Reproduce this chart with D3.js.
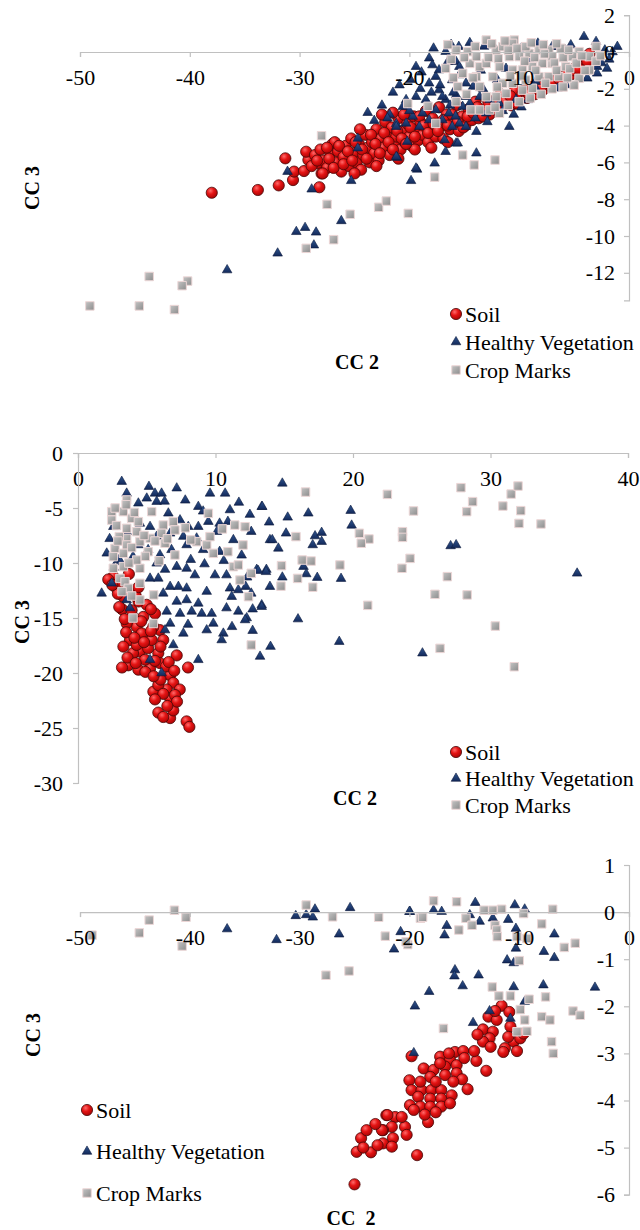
<!DOCTYPE html>
<html><head><meta charset="utf-8">
<script src="https://cdn.jsdelivr.net/npm/d3@7"></script>
<style>body{margin:0;background:#fff} svg{display:block} svg text{font-family:"Liberation Serif","Times New Roman",serif;}</style>
</head><body><svg id="c" width="640" height="1230"></svg>
<script>
// ---------- DATA ----------
const seriesNames = ["Soil", "Healthy Vegetation", "Crop Marks"];

// Panel 1 (CC2 vs CC3)
const p1XTicks = [-50, -40, -30, -20, -10, 0];
const p1YTicks = [2, 0, -2, -4, -6, -8, -10, -12];
const soil1 = [[-38.0,-7.65],[-33.8,-7.5],[-31.9,-7.25],[-30.6,-6.96],[-31.3,-5.78],[-28.2,-7.35],[-30.5,-6.5],[-29.6,-6.47],[-29.2,-5.87],[-29.4,-5.42],[-28.3,-6.05],[-28.0,-6.6],
[-28.6,-5.6],[-28.1,-5.3],[-27.8,-5.9],[-27.5,-6.3],[-27.2,-5.5],[-27.0,-5.0],[-26.7,-6.0],[-26.5,-5.4],[-26.2,-6.5],[-26.0,-5.7],[-25.8,-5.1],[-25.5,-6.2],[-25.3,-4.7],[-25.1,-5.5],[-24.8,-6.0],[-24.6,-5.0],[-24.4,-6.4],[-24.2,-5.6],[-24.0,-4.5],[-23.8,-5.2],[-23.6,-6.0],[-23.4,-4.9],[-23.2,-5.5],[-23.0,-4.2],[-22.8,-5.9],[-22.6,-4.7],[-22.4,-5.2],[-22.2,-3.8],[-22.0,-4.5],[-21.8,-5.6],[-21.6,-4.1],[-21.4,-5.0],[-21.2,-4.6],[-21.0,-3.6],[-20.8,-5.3],[-20.6,-4.3],[-20.4,-4.9],[-20.2,-3.9],[-20.0,-4.6],[-19.8,-5.1],[-19.6,-3.5],[-19.4,-4.2],[-19.2,-4.8],[-19.0,-3.8],[-18.8,-4.5],[-18.5,-3.2],[-18.3,-4.9],[-18.1,-4.1],[-17.9,-3.6],[-17.6,-4.6],[-17.3,-3.0],[-17.1,-4.0],[-16.9,-4.7],[-16.6,-3.4],[-16.3,-4.2],[-16.0,-3.8],[-15.7,-2.9],[-15.5,-4.3],[-15.2,-3.5],[-14.9,-4.0],[-14.6,-3.1],[-14.3,-3.7],[-14.0,-2.7],[-13.7,-3.6],[-13.4,-3.2],[-13.0,-2.5],[-12.7,-3.4],[-12.4,-2.9],[-12.0,-3.2],[-11.7,-2.3],[-11.4,-2.9],[-11.0,-2.6],[-10.7,-2.9],[-10.4,-2.1],[-10.0,-2.6],[-9.7,-2.3],[-9.3,-2.5],[-9.0,-1.9],[-8.6,-2.3],[-8.2,-1.7],[-7.9,-2.1],[-7.5,-1.8],[-7.1,-1.5],[-6.8,-1.8],[-6.4,-1.3],[-6.0,-1.5],[-5.6,-1.1],[-5.2,-1.2],[-4.8,-0.8],[-4.4,-0.6],[-4.0,-0.3],[-3.6,-0.1],[-22.5,-3.4],[-21.5,-3.3],[-20.5,-3.4],[-24.5,-4.2],[-26.8,-4.9],[-27.5,-5.2],[-25.0,-6.6],[-23.0,-6.2],[-21.0,-5.8],[-19.5,-5.3],[-18.0,-5.2],[-16.5,-4.9],
[-28.9,-6.2],[-28.4,-5.9],[-27.9,-6.6],[-27.3,-5.8],[-26.9,-6.3],[-26.4,-5.1],[-26.0,-6.1],[-25.6,-5.4],[-25.2,-5.9],[-24.9,-4.9],[-24.3,-5.3],[-23.9,-5.8],[-23.5,-4.5],[-23.1,-5.0],[-22.7,-5.5],[-22.3,-4.4],[-21.9,-4.9],[-21.5,-5.3],[-21.1,-4.3],[-20.7,-4.7],[-20.3,-5.0],[-19.9,-4.1],[-19.5,-4.6],[-19.1,-3.5],[-18.7,-4.0],[-18.3,-4.4],[-17.8,-3.9],[-17.4,-4.3],[-16.9,-3.7],[-16.5,-4.0],[-16.1,-3.4],[-15.6,-3.8],[-15.1,-4.1],[-14.7,-3.5],[-14.2,-3.3],[-13.8,-3.0],[-13.3,-3.5],[-12.8,-2.8],[-12.3,-3.1],[-11.8,-2.6],[-11.3,-2.7],[-10.8,-2.4],[-10.2,-2.8],[-9.6,-2.1],[-9.1,-2.3],[-8.5,-2.0],[-8.0,-1.9],[-7.4,-1.6],[-6.9,-1.6],[-6.3,-1.5],[-5.8,-1.3],[-5.0,-1.0],[-4.6,-0.9],[-3.8,-0.5]];
const veg1 = [[-36.6,-11.85],[-32.0,-10.94],[-30.3,-9.77],[-29.5,-9.55],[-28.5,-9.8],[-28.7,-10.5],[-26.2,-9.18],[-31.1,-6.5],[-28.9,-7.46],[-25.3,-7.0],[-21.1,-5.74],[-19.85,-7.0],[-19.3,-6.38],[-17.7,-6.05],[-16.7,-5.42],[-16.8,-4.78],[-15.75,-4.96],[-24.7,-4.7],[-24.7,-5.23],[-23.2,-3.73],[-21.2,-3.9],[-20.2,-4.87],
[-4.1,0.83],[-3.0,0.56],[-1.06,0.29],[-5.3,0.38],[-7.0,0.29],[-2.9,-0.8],[-2.9,-1.16],[-3.8,-1.43],[-6.5,-1.97],[-8.5,-1.97],[-10.3,-2.6],[-10.9,-4.06],[-13.9,-4.33],[-13.9,-5.5],[-15.6,-4.96],[-19.4,-6.32],[-21.2,-5.69],[-15.5,0.29],[-16.7,0.02],[-16.5,-0.53],[-17.9,-0.71],[-19.4,-0.8],[-18.2,-1.7],[-17.6,-1.34],[-15.75,-0.53],[-15.45,-1.25],[-19.4,-2.43],[-20.3,-2.6],[-20.6,-2.97],[-18.5,-2.6],[-17.3,-2.07],[-16.7,-2.6],[-17.6,-3.15],[-18.8,-3.33],[-19.7,-3.51],[-16.4,-3.33],[-15.15,-2.97],[-14.85,-2.43],[-14.2,-1.88],[-14.85,-1.7],[-13.6,-2.43],[-12.7,-2.6],[-11.8,-2.79],[-13.0,-3.33],[-15.45,-3.88],[-14.85,-4.06],[-16.1,-4.06],[-17.0,-3.7],[-18.2,-3.7],[-20.3,-3.88],[-21.2,-4.06],[-19.1,-4.06],[-17.0,-2.43],[-16.1,-1.52],[-15.45,-0.8],[-17.3,-0.98],[-18.2,-0.34],[-15.75,-2.34],[-12.4,0.38],[-8.3,0.47],[-8.5,-1.61],[-5.75,-1.79],
[-17.8,0.2],[-16.2,0.4],[-14.5,0.5],[-13.2,0.3],[-11.0,0.35],[-9.8,0.2],[-6.5,0.3],[-5.8,0.1],[-2.2,0.1],[-1.8,-0.4],[-2.5,-0.6],[-22.5,-2.9],[-21.8,-3.4],[-12.0,-1.5],[-11.2,-0.9],[-9.0,-0.5],[-13.5,-1.0],
[-21.5,-2.2],[-20.9,-1.8],[-19.9,-1.5],[-18.9,-1.1],[-18.0,-2.2],[-17.2,-1.8],[-16.3,-2.9],[-15.8,-3.5],[-14.5,-2.8],[-14.0,-3.6],[-13.3,-2.0],[-12.4,-3.0],[-11.5,-3.2],[-10.5,-3.4],[-9.8,-3.0],[-9.2,-2.6],[-12.9,-3.8],[-16.0,-2.2],[-19.0,-2.0],[-20.0,-3.2],[-22.0,-3.6],[-23.8,-3.3],[-1.5,0.0],[-2.0,-0.9]];
const crop1 = [[-49.1,-13.8],[-44.6,-13.8],[-41.4,-14.0],[-43.7,-12.2],[-40.2,-12.45],[-40.7,-12.7],[-29.4,-10.67],[-26.9,-10.2],[-27.5,-8.28],[-25.4,-8.82],[-22.8,-8.44],[-22.1,-8.1],[-20.1,-8.77],[-17.7,-6.8],[-28.0,-4.55],[-15.15,-5.6],[-14.1,-6.14],[-12.2,-5.87],[-17.6,-3.88],[-20.15,-2.8],[-18.3,-2.95],[-16.7,-0.89],[-15.75,0.1],[-14.7,0.02],[-15.6,-1.88],[-15.75,-2.7],[-14.4,-3.15],[-13.6,-3.15],[-12.7,-3.15],[-11.8,-3.33],[-13.0,0.65],[-10.45,0.65],[-13.6,-0.8],[-13.0,-0.62],[-12.1,0.1],[-11.5,0.29],[-10.9,-0.25],[-10.0,-0.25],[-9.1,-0.07],[-8.2,0.1],[-7.3,0.1],[-6.2,0.2],[-4.55,0.02],[-3.6,-0.25],[-3.6,-0.98],[-4.55,-1.43],[-5.75,-0.8],[-7.0,-0.62],[-7.9,-0.62],[-8.8,-0.8],[-9.7,-0.98],[-10.6,-0.98],[-11.8,-0.8],[-12.4,-1.34],[-11.5,-1.7],[-10.6,-1.7],[-9.4,-1.52],[-8.2,-1.34],[-7.3,-1.34],[-6.4,-1.34],[-13.6,-1.88],[-13.0,-2.43],[-12.1,-2.43],[-11.2,-2.25],[-13.9,-1.34],[-14.5,-0.62],[-15.15,-1.16],[-9.7,-2.07],[-8.8,-1.97],[-10.6,0.47],[-9.4,0.29],[-5.15,-0.25],[-7.0,-0.25],[-13.9,-0.25],
[-16.2,-0.4],[-15.0,-0.3],[-14.0,0.3],[-12.8,-0.3],[-11.9,-0.35],[-11.0,0.1],[-10.2,0.2],[-9.5,-0.5],[-8.6,-0.3],[-7.7,-0.1],[-6.8,-0.6],[-6.0,-0.3],[-5.4,-0.9],[-4.8,-0.6],[-4.0,-1.0],[-3.0,-0.5],[-2.6,-0.2],[-5.0,-1.8],[-6.0,-1.9],[-7.0,-2.0],[-8.0,-2.3],[-9.0,-2.5],[-10.0,-2.7],[-11.0,-2.9],[-12.2,-3.0],[-14.8,-2.3],[-14.2,-1.4],[-12.0,-1.9],[-10.8,-1.3],[-9.8,-1.3],[-8.5,-1.0],[-7.6,-1.7],[-6.6,-1.0],[-5.6,-1.4],[-4.3,-0.2],[-16.0,-1.4],[-16.5,0.4],[-12.5,0.45],[-11.3,0.6],[-8.9,0.5],[-7.8,0.4],[-6.6,0.45],[-5.5,0.1],[-3.0,0.3]];

// Panel 2
const p2XTicks = [0, 10, 20, 30, 40];
const p2YTicks = [0, -5, -10, -15, -20, -25, -30];
const soil2 = [[2.57,-11.24],[2.81,-12.3],[3.3,-13.06],[5.0,-13.8],[4.0,-14.9],[3.78,-17.0],[5.0,-16.7],[5.96,-16.1],[4.27,-15.8],[5.48,-15.8],[4.5,-18.06],[5.1,-17.75],[5.84,-18.2],[4.0,-18.2],[5.96,-19.1],[3.66,-19.3],[4.39,-19.7],[5.24,-19.6],[4.87,-18.8],[7.18,-18.4],[8.0,-19.5],[6.7,-20.2],[6.93,-20.9],[7.4,-21.5],[6.45,-21.5],[5.48,-21.7],[5.84,-21.1],[6.7,-22.3],[7.05,-22.0],[5.84,-23.6],[6.7,-24.1],[6.93,-23.4],[6.2,-24.0],[7.9,-24.4],[8.1,-24.9],[3.54,-15.5],[4.75,-14.9],[3.78,-12.6],[3.05,-11.7],[5.36,-17.0],[4.27,-17.45],[6.2,-17.0],[4.63,-16.4],[3.2,-14.2],[4.4,-13.5],[5.6,-14.6],[3.5,-16.3],[4.9,-19.9],[6.4,-19.4],[6.0,-20.6],
[2.2,-11.5],[2.9,-12.8],[3.0,-14.0],[3.4,-15.1],[4.2,-13.0],[4.6,-15.3],[5.3,-16.2],[4.1,-16.8],[3.3,-17.6],[3.6,-18.6],[4.8,-17.2],[5.6,-18.9],[6.0,-17.6],[4.2,-19.1],[3.2,-19.5],[5.5,-20.3],[6.6,-19.0],[7.0,-19.8],[6.2,-21.9],[7.2,-22.6],[6.5,-23.0],[5.6,-22.4],[5.3,-14.2],[4.4,-12.2],[3.7,-11.0],[2.5,-12.0],[3.9,-14.3]];
const veg2 = [[3.18,-2.6],[5.16,-3.06],[7.18,-3.2],[5.6,-3.67],[6.08,-3.67],[3.54,-3.67],[9.6,-3.67],[10.7,-3.67],[4.39,-4.57],[5.0,-4.12],[5.72,-4.42],[8.75,-4.88],[11.05,-5.18],[13.36,-4.88],[6.57,-5.48],[7.42,-6.1],[9.48,-6.24],[10.3,-6.4],[10.9,-6.24],[8.02,-6.7],[8.75,-6.7],[5.24,-6.7],[4.5,-6.4],[2.57,-6.7],[3.54,-7.15],[5.72,-7.6],[6.7,-7.3],[7.66,-7.6],[8.63,-7.75],[10.1,-7.15],[11.3,-7.9],[12.6,-7.15],[13.96,-7.9],[4.39,-8.36],[5.1,-8.8],[5.96,-9.27],[6.8,-8.8],[7.9,-8.36],[9.1,-8.8],[10.3,-8.97],[2.09,-9.12],[2.93,-9.73],[4.0,-9.42],[5.72,-10.03],[6.33,-10.6],[7.18,-10.33],[7.9,-10.5],[8.5,-11.1],[9.96,-11.1],[10.8,-11.1],[13.0,-10.6],[13.7,-10.6],[1.72,-12.76],[2.45,-11.85],[5.24,-11.4],[5.84,-11.4],[6.7,-12.15],[7.3,-12.15],[7.9,-12.3],[9.36,-12.6],[11.05,-12.3],[11.66,-12.45],[12.6,-12.76],[6.2,-12.76],[7.18,-13.5],[7.9,-13.36],[8.75,-13.67],[11.18,-13.06],[13.36,-13.82],[6.45,-14.4],[7.42,-14.6],[8.27,-14.4],[9.0,-14.6],[9.72,-14.6],[10.8,-14.1],[11.66,-14.4],[12.27,-15.0],[6.7,-15.5],[7.66,-16.4],[6.33,-16.1],[9.84,-15.5],[10.57,-16.4],[10.45,-17.0],[9.36,-16.1],[6.93,-17.45],[8.75,-18.8],[5.24,-18.8],[13.24,-18.5],[3.78,-14.1],[3.54,-13.36],[6.08,-20.0],
[14.86,-2.76],[13.4,-4.88],[13.9,-6.3],[15.25,-5.85],[16.75,-5.48],[19.83,-5.24],[19.9,-6.58],[15.13,-7.3],[14.13,-7.9],[14.57,-8.67],[17.24,-7.55],[17.72,-7.24],[17.72,-8.06],[17.07,-8.36],[27.1,-8.45],[27.5,-8.36],[36.3,-10.94],[13.1,-10.7],[13.67,-10.8],[14.86,-11.3],[16.4,-10.33],[16.6,-11.0],[17.4,-11.33],[19.13,-11.42],[13.96,-12.15],[12.2,-12.15],[12.7,-14.2],[13.36,-13.97],[16.0,-15.1],[12.15,-15.18],[12.7,-16.15],[14.0,-17.6],[19.0,-17.15],[25.05,-18.2],
[2.3,-7.8],[2.6,-10.4],[3.1,-9.9],[8.2,-9.7],[9.2,-10.1],[10.6,-9.8],[11.9,-9.3],[12.3,-11.3],[11.2,-15.8],[8.0,-15.6],[9.1,-5.3],[11.7,-4.5],[12.5,-5.6],[6.3,-4.4],[7.8,-4.3]];
const crop2 = [[3.54,-4.27],[2.45,-5.33],[2.45,-6.1],[3.3,-5.33],[3.9,-5.94],[4.39,-6.24],[5.36,-5.33],[3.54,-6.85],[4.27,-7.15],[6.2,-6.55],[6.93,-6.24],[6.08,-7.3],[7.05,-7.0],[3.54,-7.76],[4.5,-8.06],[6.33,-8.2],[3.54,-8.36],[2.69,-8.67],[2.57,-9.42],[3.3,-9.12],[5.1,-8.97],[7.05,-9.27],[8.63,-8.06],[9.36,-8.36],[9.84,-9.12],[10.9,-8.97],[9.48,-5.48],[11.4,-6.55],[12.15,-6.7],[12.0,-8.36],[11.3,-10.33],[11.66,-10.18],[11.78,-11.55],[12.6,-10.94],[12.4,-13.06],[12.6,-17.45],[2.57,-10.48],[3.3,-10.33],[3.05,-11.4],[3.42,-11.7],[3.66,-12.3],[4.5,-10.48],[4.5,-11.85],[4.5,-13.36],[4.0,-15.0],[5.48,-15.5],[4.27,-9.73],[5.24,-7.76],
[16.55,-3.55],[22.5,-3.76],[24.4,-5.27],[27.85,-3.15],[28.7,-4.42],[28.27,-5.33],[31.5,-3.73],[32.0,-3.0],[30.9,-4.82],[32.2,-5.24],[32.07,-6.4],[33.67,-6.45],[15.85,-7.6],[20.46,-7.3],[21.16,-7.82],[20.6,-8.2],[23.6,-7.15],[23.6,-7.67],[14.8,-10.24],[16.3,-9.73],[16.95,-9.82],[19.05,-10.18],[15.97,-11.4],[14.76,-12.1],[17.07,-12.2],[24.15,-9.58],[23.56,-10.48],[26.86,-11.24],[25.96,-12.85],[28.3,-12.9],[21.07,-13.85],[30.35,-15.73],[26.33,-17.76],[31.73,-19.43],
[2.8,-6.6],[3.0,-7.6],[3.9,-8.6],[4.8,-7.5],[5.6,-8.0],[4.1,-5.4],[2.9,-8.0],[3.7,-10.0],[4.9,-9.4],[5.9,-9.8],[3.9,-13.0],[3.2,-12.6],[5.5,-12.9],[6.5,-7.8],[7.8,-6.8],[8.2,-7.9],[9.6,-7.6],[10.5,-6.9],[2.7,-5.0],[3.5,-4.7]];

// Panel 3
const p3XTicks = [-50, -40, -30, -20, -10, 0];
const p3YTicks = [1, 0, -1, -2, -3, -4, -5, -6];
const soil3 = [[-11.6,-1.99],[-10.9,-2.12],[-12.8,-2.22],[-12.05,-2.29],[-13.3,-2.49],[-12.4,-2.54],[-12.7,-2.68],[-13.3,-2.75],[-12.6,-2.86],[-11.3,-2.89],[-10.5,-2.75],[-9.9,-2.68],[-10.8,-2.43],[-13.9,-3.16],[-13.0,-3.37],[-15.85,-2.97],[-15.1,-2.95],[-17.2,-3.07],[-16.3,-3.14],[-19.8,-3.06],[-18.7,-3.32],[-17.8,-3.35],[-16.75,-3.28],[-15.7,-3.25],[-17.2,-3.21],[-16.75,-3.46],[-15.7,-3.42],[-15.2,-3.55],[-14.7,-3.76],[-18.1,-3.5],[-20.0,-3.57],[-19.8,-3.78],[-18.9,-3.78],[-18.0,-3.78],[-17.1,-3.78],[-19.2,-3.92],[-18.1,-3.96],[-17.1,-3.96],[-16.15,-3.89],[-19.95,-4.1],[-19.0,-4.13],[-18.1,-4.13],[-17.1,-4.13],[-19.6,-4.2],[-16.3,-4.06],[-18.3,-4.46],[-19.3,-5.16],[-22.1,-4.31],[-21.3,-4.35],[-20.4,-4.56],[-21.6,-4.56],[-20.25,-4.73],[-21.5,-4.8],[-22.4,-4.63],[-22.4,-4.91],[-21.6,-4.98],[-11.45,-2.97],[-9.6,-2.58],[-25.0,-5.78],[-24.8,-5.09],[-23.5,-5.1],[-24.4,-4.8],[-23.9,-4.63],[-22.5,-4.63],[-22.0,-4.31],
[-19.0,-3.6],[-17.6,-3.6],[-16.0,-3.6],[-15.0,-3.1],[-14.1,-2.95],[-18.6,-4.3],[-17.6,-4.25],[-20.7,-4.35],[-23.1,-4.5],[-24.2,-5.0],[-22.9,-4.95],[-12.2,-2.1],[-11.0,-2.65],[-10.2,-2.95],[-13.8,-2.6],[-16.4,-3.0]];
const veg3 = [[-19.95,0.01],[-17.8,0.04],[-17.06,0.01],[-14.0,0.2],[-10.4,0.15],[-9.5,0.06],[-14.5,-0.06],[-13.6,-0.2],[-12.4,-0.13],[-11.0,-0.16],[-16.6,-0.29],[-16.8,-0.49],[-20.8,-0.42],[-21.4,-0.79],[-10.3,-0.35],[-10.3,-0.77],[-11.1,-1.02],[-10.5,-1.08],[-7.75,-0.84],[-6.8,-0.47],[-6.8,-0.97],[-15.85,-1.23],[-15.9,-1.36],[-13.7,-1.34],[-15.15,-1.57],[-18.2,-1.69],[-19.5,-2.0],[-10.5,-1.59],[-7.8,-1.55],[-3.1,-1.6],[-12.7,-2.1],[-14.2,-2.35],[-10.8,-2.26],[-9.5,-1.9],[-19.6,-2.99],
[-36.6,-0.36],[-32.1,-0.59],[-30.35,-0.08],[-29.4,-0.06],[-28.8,-0.11],[-28.6,0.06],[-25.4,0.09],[-26.4,-0.47],[-20.0,0.01]];
const crop3 = [[-48.9,-0.49],[-44.6,-0.44],[-43.7,-0.17],[-41.4,0.04],[-40.35,-0.11],[-40.7,-0.72],[-29.4,0.15],[-27.0,-0.1],[-22.8,-0.11],[-22.2,-0.51],[-20.15,-0.69],[-27.6,-1.34],[-25.5,-1.25],[-19.0,-0.13],
[-20.3,-0.63],[-18.8,-0.11],[-17.8,0.24],[-15.7,0.22],[-15.5,-0.38],[-14.85,-0.13],[-14.3,-0.28],[-13.2,0.04],[-12.4,0.04],[-11.6,0.06],[-12.2,-0.28],[-12.05,-0.38],[-12.0,-0.52],[-9.6,-0.03],[-10.2,-0.52],[-9.3,-0.56],[-10.0,-1.03],[-7.95,-0.25],[-6.95,0.06],[-5.9,-0.75],[-4.9,-0.66],[-12.45,-1.59],[-11.85,-1.78],[-10.8,-1.78],[-9.1,-1.85],[-9.9,-2.07],[-7.6,-1.8],[-7.95,-2.22],[-7.2,-2.29],[-9.5,-2.29],[-10.2,-2.54],[-9.3,-2.53],[-7.05,-2.75],[-6.9,-3.0],[-5.1,-2.1],[-4.45,-2.19],[-16.9,-2.47]];

// ---------- DRAW ----------
const svg = d3.select("#c");
const FONT = "Liberation Serif, Times New Roman, serif";
const defs = svg.append("defs");
const rg = defs.append("radialGradient").attr("id","gSoil").attr("cx","38%").attr("cy","32%").attr("r","70%");
rg.append("stop").attr("offset","0%").attr("stop-color","#ff6b6b");
rg.append("stop").attr("offset","45%").attr("stop-color","#e41414");
rg.append("stop").attr("offset","100%").attr("stop-color","#a80404");
const tg = defs.append("linearGradient").attr("id","gVeg").attr("x1","0").attr("y1","0").attr("x2","0").attr("y2","1");
tg.append("stop").attr("offset","0%").attr("stop-color","#2f558f");
tg.append("stop").attr("offset","100%").attr("stop-color","#13295a");
const sg = defs.append("linearGradient").attr("id","gCrop").attr("x1","0").attr("y1","0").attr("x2","1").attr("y2","1");
sg.append("stop").attr("offset","0%").attr("stop-color","#c4c4c4");
sg.append("stop").attr("offset","100%").attr("stop-color","#8c8c8c");

const triPath = d3.symbol().type(d3.symbolTriangle).size(40)();
const sqPath = d3.symbol().type(d3.symbolSquare).size(72)();

function drawSoil(g, x, y) {
  g.append("circle").attr("cx", x).attr("cy", y).attr("r", 5.6)
    .attr("fill","url(#gSoil)").attr("stroke","#4a0808").attr("stroke-width",0.8);
}
function drawVeg(g, x, y) {
  g.append("path").attr("d", triPath).attr("transform",`translate(${x},${y})`)
    .attr("fill","url(#gVeg)").attr("stroke","#0b1a3c").attr("stroke-width",0.6);
}
function drawCrop(g, x, y) {
  g.append("path").attr("d", sqPath).attr("transform",`translate(${x},${y})`)
    .attr("fill","url(#gCrop)").attr("stroke","#ecd6d6").attr("stroke-width",1);
}

function panel(cfg) {
  const g = svg.append("g");
  const x = d3.scaleLinear().domain(cfg.xd).range(cfg.xr);
  const y = d3.scaleLinear().domain(cfg.yd).range(cfg.yr);
  const ax = g.append("g").attr("transform", `translate(0,${y(0)})`)
    .call(d3.axisBottom(x).tickValues(cfg.xt).tickSize(5).tickPadding(12).tickFormat(d3.format("d")));
  const ay = g.append("g").attr("transform", `translate(${x(0)},0)`)
    .call(d3.axisLeft(y).tickValues(cfg.yt).tickSize(5).tickPadding(cfg.yPad).tickFormat(d3.format("d")));
  [ax, ay].forEach(a => {
    a.attr("font-family", FONT).attr("font-size", 22);
    a.select(".domain").attr("stroke","#c0c0c0").attr("stroke-width",1.2);
    a.selectAll(".tick line").attr("stroke","#c0c0c0").attr("stroke-width",1.2);
    a.selectAll("text").attr("fill","#000");
  });
  ax.selectAll("text").text(d => d < 0 ? "-" + Math.abs(d) : d);
  ay.selectAll("text").text(d => d < 0 ? "-" + Math.abs(d) : d);
  const pts = g.append("g");
  cfg.soil.forEach(d => drawSoil(pts, x(d[0]), y(d[1])));
  cfg.veg.forEach(d => drawVeg(pts, x(d[0]), y(d[1])));
  cfg.crop.forEach(d => drawCrop(pts, x(d[0]), y(d[1])));
  ax.raise(); ay.raise();
  ax.select(".domain").lower(); ay.select(".domain").lower();
  g.append("text").attr("x", cfg.xt2[0]).attr("y", cfg.xt2[1]).attr("text-anchor","middle")
    .attr("dominant-baseline","central").attr("font-weight","bold")
    .attr("font-size",20).style("white-space","pre").text(cfg.xTitle);
  g.append("text").attr("transform",`translate(${cfg.yt2[0]},${cfg.yt2[1]}) rotate(-90)`)
    .attr("text-anchor","middle").attr("dominant-baseline","central")
    .attr("font-weight","bold").attr("font-size",20).text("CC 3");
  const lg = g.append("g");
  const drawers = [drawSoil, drawVeg, drawCrop];
  seriesNames.forEach((n, i) => {
    const ly = cfg.leg[1] + i * cfg.leg[2];
    drawers[i](lg, cfg.leg[0], ly);
    lg.append("text").attr("x", cfg.leg[0] + 9).attr("y", ly).attr("dominant-baseline","central")
      .attr("font-size",22).attr("fill","#000").text(n);
  });
}

panel({xd:[-50,0], xr:[80,629], yd:[2,-13.5], yr:[15.2,300.4], xt:p1XTicks, yt:p1YTicks, yPad:9,
  soil:soil1, veg:veg1, crop:crop1, xTitle:"CC 2", xt2:[357,362], yt2:[32,188], leg:[456,314,28]});
panel({xd:[0,40], xr:[78,628], yd:[0,-30], yr:[453,783], xt:p2XTicks, yt:p2YTicks, yPad:10,
  soil:soil2, veg:veg2, crop:crop2, xTitle:"CC 2", xt2:[355,798], yt2:[22,622], leg:[456,752,26.5]});
panel({xd:[-50,0], xr:[80,629], yd:[1,-6], yr:[865,1194.7], xt:p3XTicks, yt:p3YTicks, yPad:9,
  soil:soil3, veg:veg3, crop:crop3, xTitle:"CC  2", xt2:[351,1218], yt2:[33,1035], leg:[87,1110,41.5]});
</script></body></html>
